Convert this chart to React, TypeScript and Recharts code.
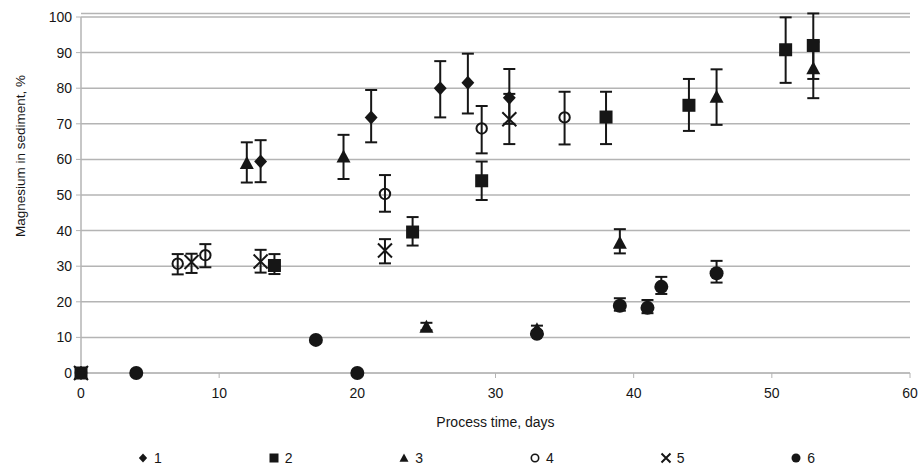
import { ScatterChart, Scatter, XAxis, YAxis, CartesianGrid, ErrorBar, Legend, ReferenceLine } from 'recharts';

const INK = '#161616';
const GRID = '#b4b4b4';
const FONT = '"Liberation Sans", Arial, sans-serif';

// days, Mg in sediment (%), lower / upper error ends (null = no bar)
const days1 = [0, 13, 21, 26, 28, 31];
const mg1 = [0, 59.4, 71.8, 80, 81.5, 77.3];
const lo1 = [null, 53.6, 64.8, 71.8, 72.9, 70];
const hi1 = [null, 65.4, 79.5, 87.6, 89.7, 85.4];

const days2 = [0, 14, 24, 29, 38, 44, 51, 53];
const mg2 = [0, 30.2, 39.6, 54, 71.9, 75.2, 90.8, 92];
const lo2 = [null, 27.8, 35.8, 48.6, 64.3, 68, 81.5, 82.6];
const hi2 = [null, 33.4, 43.8, 59.4, 79, 82.6, 99.9, 101];

const days3 = [0, 12, 19, 25, 33, 39, 46, 53];
const mg3 = [0, 59, 60.8, 13, 12.3, 36.6, 77.6, 85.6];
const lo3 = [null, 53.5, 54.5, 12, 11.3, 33.6, 69.7, 77.2];
const hi3 = [null, 64.8, 66.9, 14.1, 13.3, 40.4, 85.3, 93];

const days4 = [0, 7, 9, 22, 29, 35];
const mg4 = [0, 30.7, 33.1, 50.3, 68.7, 71.8];
const lo4 = [null, 27.7, 29.7, 45.3, 61.7, 64.2];
const hi4 = [null, 33.4, 36.2, 55.6, 75, 79];

const days5 = [0, 8, 13, 22, 31];
const mg5 = [0, 31.2, 31.3, 34.4, 71.3];
const lo5 = [null, 28.1, 28.2, 30.8, 64.3];
const hi5 = [null, 33.5, 34.6, 37.6, 78.4];

const days6 = [4, 17, 20, 33, 39, 41, 42, 46];
const mg6 = [0, 9.3, 0, 11, 18.9, 18.3, 24.2, 28];
const lo6 = [null, 8.8, null, 10.5, 17.5, 16.8, 22.2, 25.4];
const hi6 = [null, 9.8, null, 11.8, 21, 20.5, 27, 31.5];

const xTicks = [0, 10, 20, 30, 40, 50, 60];
const yTicks = [0, 10, 20, 30, 40, 50, 60, 70, 80, 90, 100];

const toPoints = (days: number[], mg: number[], lo: (number | null)[], hi: (number | null)[]) =>
  days.map((x, i) => ({
    x,
    y: mg[i],
    err: lo[i] == null ? null : [mg[i] - (lo[i] as number), (hi[i] as number) - mg[i]],
  }));

const Diamond = ({ cx, cy, s = 7 }: any) => (
  <path d={`M${cx},${cy - s}L${cx + s * 0.92},${cy}L${cx},${cy + s}L${cx - s * 0.92},${cy}Z`} fill={INK} />
);
const Square = ({ cx, cy, s = 6.5 }: any) => <rect x={cx - s} y={cy - s} width={2 * s} height={2 * s} fill={INK} />;
const Triangle = ({ cx, cy, s = 7 }: any) => (
  <path d={`M${cx},${cy - s}L${cx + s},${cy + s * 0.85}L${cx - s},${cy + s * 0.85}Z`} fill={INK} />
);
const Ring = ({ cx, cy, s = 6 }: any) => (
  <circle cx={cx} cy={cy} r={s - 0.8} fill="none" stroke={INK} strokeWidth={s > 5 ? 2 : 1.6} />
);
const Cross = ({ cx, cy, s = 7 }: any) => (
  <path d={`M${cx - s},${cy - s}L${cx + s},${cy + s}M${cx + s},${cy - s}L${cx - s},${cy + s}`} stroke={INK} strokeWidth={2} fill="none" />
);
const Dot = ({ cx, cy, s = 7 }: any) => <circle cx={cx} cy={cy} r={s} fill={INK} />;

const series = [
  { name: '1', data: toPoints(days1, mg1, lo1, hi1), Shape: Diamond },
  { name: '2', data: toPoints(days2, mg2, lo2, hi2), Shape: Square },
  { name: '3', data: toPoints(days3, mg3, lo3, hi3), Shape: Triangle },
  { name: '4', data: toPoints(days4, mg4, lo4, hi4), Shape: Ring },
  { name: '5', data: toPoints(days5, mg5, lo5, hi5), Shape: Cross },
  { name: '6', data: toPoints(days6, mg6, lo6, hi6), Shape: Dot },
];

const LegendRow = () => (
  <div style={{ display: 'flex', alignItems: 'center', height: 20, paddingLeft: 137, fontFamily: FONT, fontSize: 14, color: INK }}>
    {series.map(({ name, Shape }) => (
      <div key={name} style={{ width: 134.8, display: 'flex', alignItems: 'center' }}>
        <svg width={12} height={12}>
          <Shape cx={6} cy={6} s={4.5} />
        </svg>
        <span style={{ marginLeft: 5 }}>{name}</span>
      </div>
    ))}
  </div>
);

const YTitle = () => (
  <text x={20} y={156} transform="rotate(-90 20 156)" textAnchor="middle" dominantBaseline="central" fill={INK} fontSize={13.5} fontFamily={FONT}>
    Magnesium in sediment, %
  </text>
);

export default function App() {
  return (
    <div style={{ position: 'absolute', left: 0, top: 0, background: '#fff' }}>
      <ScatterChart width={921} height={468} margin={{ top: 13.44, right: 11, left: 21, bottom: 0 }}>
        <CartesianGrid vertical={false} stroke={GRID} strokeWidth={1.5} />
        <XAxis
          type="number"
          dataKey="x"
          domain={[0, 60]}
          ticks={xTicks}
          stroke={GRID}
          tickSize={5}
          tickMargin={10}
          height={75}
          tick={{ fill: INK, fontSize: 14, fontFamily: FONT }}
          label={{ value: 'Process time, days', position: 'insideBottom', offset: 21, fill: INK, fontSize: 14, fontFamily: FONT }}
        />
        <YAxis
          type="number"
          dataKey="y"
          domain={[0, 100]}
          ticks={yTicks}
          width={60}
          axisLine={false}
          stroke={GRID}
          tickSize={5}
          tickMargin={4}
          tick={{ fill: INK, fontSize: 14, fontFamily: FONT }}
          label={YTitle}
        />
        <ReferenceLine segment={[{ x: 0, y: 0 }, { x: 0, y: 100 }]} stroke={GRID} strokeWidth={1.5} />
        {series.map(({ name, data, Shape }) => (
          <Scatter key={name} name={name} data={data} isAnimationActive={false} shape={(p: any) => <Shape cx={p.cx} cy={p.cy} />}>
            <ErrorBar dataKey="err" direction="y" width={6} stroke={INK} strokeWidth={2} />
          </Scatter>
        ))}
        <Legend content={LegendRow} verticalAlign="bottom" wrapperStyle={{ left: 0, bottom: 0, width: 921, height: 20 }} />
      </ScatterChart>
    </div>
  );
}
